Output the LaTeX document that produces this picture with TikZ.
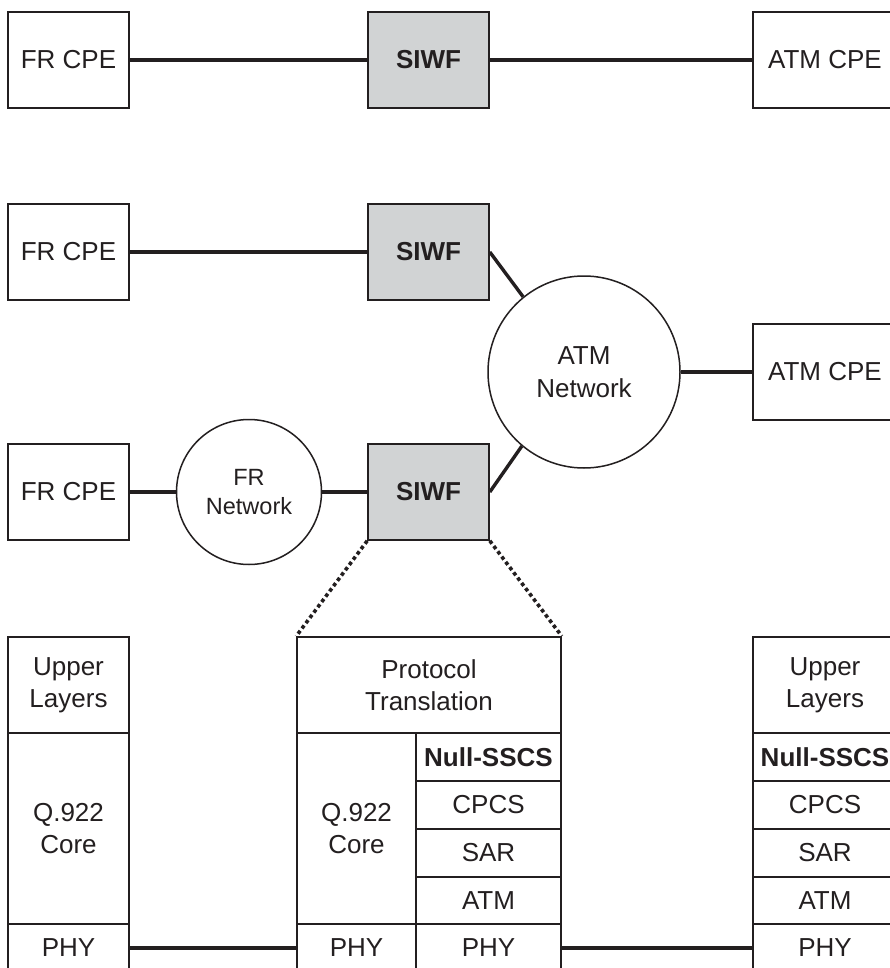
\documentclass[tikz,border=0pt]{standalone}
\usepackage{fontspec}
\setmainfont{Liberation Sans}
\definecolor{ink}{RGB}{35,31,32}
\definecolor{siwfgray}{RGB}{209,211,212}
\begin{document}
\begin{tikzpicture}[x=1pt,y=-1pt,
  box/.style={draw=ink, line width=1.6pt, rectangle, inner sep=0pt, align=center,
    text=ink, font=\fontsize{26}{32}\selectfont},
  cpe/.style={box, minimum width=121pt, minimum height=96pt},
  atmcpe/.style={box, minimum width=144pt, minimum height=96pt},
  siwf/.style={cpe, fill=siwfgray, font=\fontsize{26}{32}\selectfont\bfseries},
  net/.style={draw=ink, line width=1.5pt, circle, inner sep=0pt, align=center,
    text=ink},
  link/.style={draw=ink, line width=3.4pt},
  zoomline/.style={draw=ink, line width=3.6pt, dash pattern=on 3.6pt off 3pt},
  layer/.style={box, minimum height=#1},
]
\clip (0,0) rectangle (890,968);
\fill[white] (0,0) rectangle (890,968);

% Row 1
\node[cpe] (fr1) at (68.5,60) {FR CPE};
\node[siwf] (siwf1) at (428.5,60) {SIWF};
\node[atmcpe] (atm1) at (825,60) {ATM CPE};
\draw[link] (fr1.east) -- (siwf1.west);
\draw[link] (siwf1.east) -- (atm1.west);

% Row 2
\node[cpe] (fr2) at (68.5,252) {FR CPE};
\node[siwf] (siwf2) at (428.5,252) {SIWF};
\node[net, minimum size=192pt, font=\fontsize{26}{33}\selectfont] (atmnet) at (584,372) {ATM\\Network};
\node[atmcpe] (atm2) at (825,372) {ATM CPE};
\draw[link] (fr2.east) -- (siwf2.west);
\draw[link] (siwf2.east) -- (atmnet.129);
\draw[link] (atmnet.east) -- (atm2.west);

% Row 3
\node[cpe] (fr3) at (68.5,492) {FR CPE};
\node[net, minimum size=145pt, font=\fontsize{23.5}{29}\selectfont] (frnet) at (249,492) {FR\\Network};
\node[siwf] (siwf3) at (428.5,492) {SIWF};
\draw[link] (fr3.east) -- (frnet.west);
\draw[link] (frnet.east) -- (siwf3.west);
\draw[link] (siwf3.east) -- (atmnet.230);

% Left stack
\node[layer=96pt, minimum width=121pt] (ul1) at (68.5,685) {Upper\\Layers};
\node[layer=191pt, minimum width=121pt] (q1) at (68.5,828.5) {Q.922\\Core};
\node[layer=48pt, minimum width=121pt] (phy1) at (68.5,948) {PHY};

% Middle stack
\node[layer=96pt, minimum width=264pt] (proto) at (429,685) {Protocol\\Translation};
\node[layer=191pt, minimum width=119pt] (q2) at (356.5,828.5) {Q.922\\Core};
\node[layer=48pt, minimum width=145pt, font=\fontsize{26}{32}\selectfont\bfseries] (ns2) at (488.5,757) {Null-SSCS};
\node[layer=48pt, minimum width=145pt] (cp2) at (488.5,805) {CPCS};
\node[layer=48pt, minimum width=145pt] (sar2) at (488.5,853) {SAR};
\node[layer=47pt, minimum width=145pt] (atml2) at (488.5,900.5) {ATM};
\node[layer=48pt, minimum width=119pt] (phy2a) at (356.5,948) {PHY};
\node[layer=48pt, minimum width=145pt] (phy2b) at (488.5,948) {PHY};

% Right stack
\node[layer=96pt, minimum width=144pt] (ul3) at (825,685) {Upper\\Layers};
\node[layer=48pt, minimum width=144pt, font=\fontsize{26}{32}\selectfont\bfseries] (ns3) at (825,757) {Null-SSCS};
\node[layer=48pt, minimum width=144pt] (cp3) at (825,805) {CPCS};
\node[layer=48pt, minimum width=144pt] (sar3) at (825,853) {SAR};
\node[layer=47pt, minimum width=144pt] (atml3) at (825,900.5) {ATM};
\node[layer=48pt, minimum width=144pt] (phy3) at (825,948) {PHY};

% PHY links
\draw[link] (phy1.east) -- (phy2a.west);
\draw[link] (phy2b.east) -- (phy3.west);

% Zoom lines
\draw[zoomline] (siwf3.south west) -- (proto.north west);
\draw[zoomline] (siwf3.south east) -- (proto.north east);
\end{tikzpicture}
\end{document}
